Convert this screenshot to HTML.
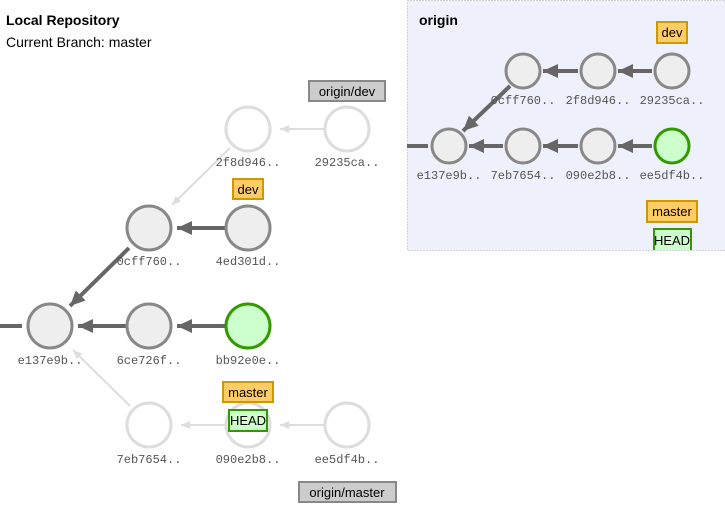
<!DOCTYPE html>
<html><head><meta charset="utf-8"><style>
html,body{margin:0;padding:0;background:#fff;width:725px;height:515px;overflow:hidden}
svg{display:block}
.t{font-family:"Liberation Sans",sans-serif;font-size:14px;fill:#000}
.h{font-family:"Liberation Mono",monospace;font-size:12px;fill:#555;text-anchor:middle}
.b{font-family:"Liberation Sans",sans-serif;font-size:13px;fill:#000;text-anchor:middle}
</style></head><body>
<svg width="725" height="515" viewBox="0 0 725 515" xmlns="http://www.w3.org/2000/svg">
<defs>
<marker id="ah" markerUnits="userSpaceOnUse" markerWidth="18" markerHeight="18" refX="15" refY="8" orient="auto">
<path d="M0,1 L15,8 L0,15 Z" fill="#666"/></marker>
<marker id="al" markerUnits="userSpaceOnUse" markerWidth="10" markerHeight="10" refX="9" refY="5" orient="auto">
<path d="M0,1 L9,5 L0,9 Z" fill="#ddd"/></marker>
<clipPath id="pc"><rect x="407" y="0" width="318" height="250"/></clipPath>
</defs>
<text class="t" x="6" y="25" font-weight="bold">Local Repository</text>
<text class="t" x="6" y="47">Current Branch: master</text>

<rect x="407.5" y="0.5" width="320" height="250" fill="#eef0fc" stroke="#aaa" stroke-dasharray="1,2"/>
<text class="t" x="419" y="25" font-weight="bold">origin</text>

<g stroke="#ddd" stroke-width="2" fill="none">
<line x1="324" y1="129" x2="280" y2="129" marker-end="url(#al)"/>
<line x1="230" y1="148" x2="172" y2="205" marker-end="url(#al)"/>
<line x1="324" y1="425" x2="280" y2="425" marker-end="url(#al)"/>
<line x1="225" y1="425" x2="181" y2="425" marker-end="url(#al)"/>
<line x1="130" y1="406" x2="73" y2="350" marker-end="url(#al)"/>
</g>
<g stroke="#666" stroke-width="4" fill="none">
<line x1="0" y1="326" x2="22" y2="326"/>
<line x1="126" y1="326" x2="78" y2="326" marker-end="url(#ah)"/>
<line x1="225" y1="326" x2="177" y2="326" marker-end="url(#ah)"/>
<line x1="225" y1="228" x2="177" y2="228" marker-end="url(#ah)"/>
<line x1="129" y1="248" x2="70" y2="306" marker-end="url(#ah)"/>
</g>
<g stroke-width="3">
<circle cx="248" cy="129" r="22" fill="#fff" stroke="#ddd"/>
<circle cx="347" cy="129" r="22" fill="#fff" stroke="#ddd"/>
<circle cx="149" cy="425" r="22" fill="#fff" stroke="#ddd"/>
<circle cx="248" cy="425" r="22" fill="#fff" stroke="#ddd"/>
<circle cx="347" cy="425" r="22" fill="#fff" stroke="#ddd"/>
<circle cx="149" cy="228" r="22" fill="#eee" stroke="#888"/>
<circle cx="248" cy="228" r="22" fill="#eee" stroke="#888"/>
<circle cx="50" cy="326" r="22" fill="#eee" stroke="#888"/>
<circle cx="149" cy="326" r="22" fill="#eee" stroke="#888"/>
<circle cx="248" cy="326" r="22" fill="#ccffcc" stroke="#339900"/>
</g>
<text class="h" x="248" y="166">2f8d946..</text>
<text class="h" x="347" y="166">29235ca..</text>
<text class="h" x="149" y="265">0cff760..</text>
<text class="h" x="248" y="265">4ed301d..</text>
<text class="h" x="50" y="364">e137e9b..</text>
<text class="h" x="149" y="364">6ce726f..</text>
<text class="h" x="248" y="364">bb92e0e..</text>
<text class="h" x="149" y="463">7eb7654..</text>
<text class="h" x="248" y="463">090e2b8..</text>
<text class="h" x="347" y="463">ee5df4b..</text>

<rect x="309" y="81" width="76" height="20" fill="#ccc" stroke="#888" stroke-width="2"/>
<text class="b" x="347" y="96">origin/dev</text>
<rect x="233" y="179" width="30" height="20" fill="#ffcc66" stroke="#cc9900" stroke-width="2"/>
<text class="b" x="248" y="194">dev</text>
<rect x="223" y="382" width="50" height="20" fill="#ffcc66" stroke="#cc9900" stroke-width="2"/>
<text class="b" x="248" y="397">master</text>
<rect x="229" y="410" width="38" height="21" fill="#ccffcc" stroke="#339900" stroke-width="2"/>
<text class="b" x="248" y="425">HEAD</text>
<rect x="299" y="482" width="97" height="20" fill="#ccc" stroke="#888" stroke-width="2"/>
<text class="b" x="347" y="497">origin/master</text>

<g stroke="#666" stroke-width="4" fill="none">
<line x1="407" y1="146" x2="428" y2="146"/>
<line x1="503" y1="146" x2="469" y2="146" marker-end="url(#ah)"/>
<line x1="578" y1="146" x2="543" y2="146" marker-end="url(#ah)"/>
<line x1="652" y1="146" x2="618" y2="146" marker-end="url(#ah)"/>
<line x1="578" y1="71" x2="543" y2="71" marker-end="url(#ah)"/>
<line x1="652" y1="71" x2="618" y2="71" marker-end="url(#ah)"/>
<line x1="510" y1="86" x2="463" y2="131" marker-end="url(#ah)"/>
</g>
<g stroke-width="3">
<circle cx="523" cy="71" r="17" fill="#eee" stroke="#888"/>
<circle cx="598" cy="71" r="17" fill="#eee" stroke="#888"/>
<circle cx="672" cy="71" r="17" fill="#eee" stroke="#888"/>
<circle cx="449" cy="146" r="17" fill="#eee" stroke="#888"/>
<circle cx="523" cy="146" r="17" fill="#eee" stroke="#888"/>
<circle cx="598" cy="146" r="17" fill="#eee" stroke="#888"/>
<circle cx="672" cy="146" r="17" fill="#ccffcc" stroke="#339900"/>
</g>
<text class="h" x="523" y="104">0cff760..</text>
<text class="h" x="598" y="104">2f8d946..</text>
<text class="h" x="672" y="104">29235ca..</text>
<text class="h" x="449" y="179">e137e9b..</text>
<text class="h" x="523" y="179">7eb7654..</text>
<text class="h" x="598" y="179">090e2b8..</text>
<text class="h" x="672" y="179">ee5df4b..</text>
<rect x="657" y="22" width="30" height="21" fill="#ffcc66" stroke="#cc9900" stroke-width="2"/>
<text class="b" x="672" y="37">dev</text>
<rect x="647" y="201" width="50" height="21" fill="#ffcc66" stroke="#cc9900" stroke-width="2"/>
<text class="b" x="672" y="216">master</text>
<g clip-path="url(#pc)">
<rect x="654" y="229" width="37" height="22" fill="#ccffcc" stroke="#339900" stroke-width="2"/>
<text class="b" x="672" y="245">HEAD</text>
</g>
</svg>
</body></html>
